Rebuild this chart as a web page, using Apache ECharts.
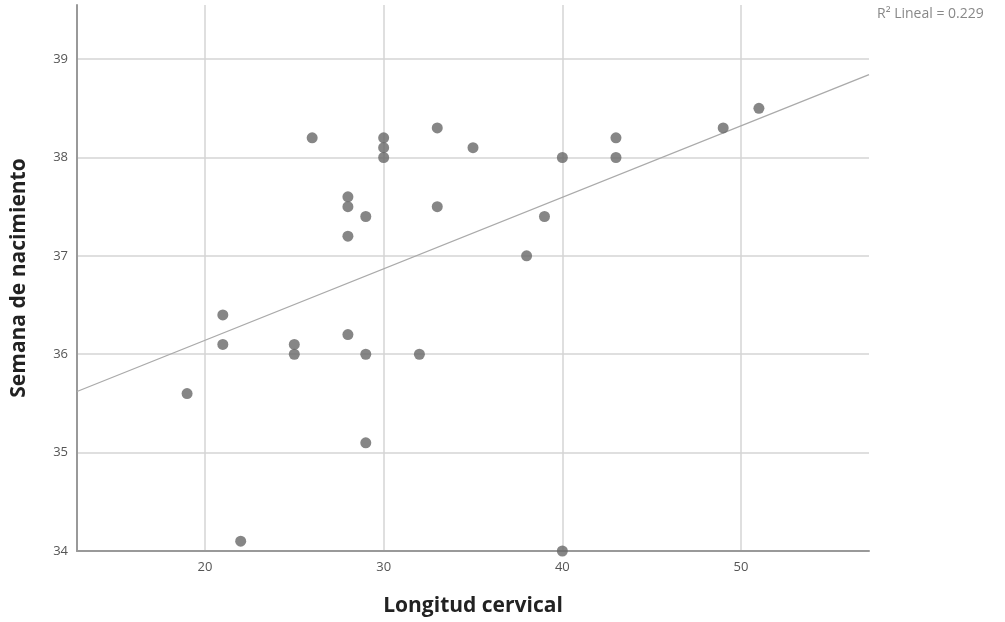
<!DOCTYPE html>
<html><head><meta charset="utf-8">
<script src="https://cdn.jsdelivr.net/npm/echarts@6/dist/echarts.min.js"></script>
<style>html,body{margin:0;padding:0;background:#fff}#c{width:1005px;height:622px}</style>
</head><body><div id="c"></div>
<script>
const longitudCervical = [19,21,21,22,25,25,26,28,28,28,28,29,29,29,30,30,30,32,33,33,35,38,39,40,40,43,43,49,51];
const semanaNacimiento = [35.6,36.4,36.1,34.1,36.1,36.0,38.2,37.6,37.5,37.2,36.2,37.4,36.0,35.1,38.2,38.1,38.0,36.0,38.3,37.5,38.1,37.0,37.4,38.0,34.0,38.2,38.0,38.3,38.5];
const xTicks = [20,30,40,50];
const yTicks = [34,35,36,37,38,39];
const xRange = [12.84, 57.16];
const yRange = [34, 39.55];
const fitLabel = 'R\u00b2 Lineal = 0.229';

const n = longitudCervical.length;
const mx = longitudCervical.reduce((a,b)=>a+b,0)/n;
const my = semanaNacimiento.reduce((a,b)=>a+b,0)/n;
let sxy=0,sxx=0;
for(let i=0;i<n;i++){sxy+=(longitudCervical[i]-mx)*(semanaNacimiento[i]-my);sxx+=(longitudCervical[i]-mx)**2;}
const slope=sxy/sxx, icpt=my-slope*mx;
const fitLine = xRange.map(x=>[x, icpt+slope*x]);
const pts = longitudCervical.map((x,i)=>[x,semanaNacimiento[i]]);

const chart = echarts.init(document.getElementById('c'));
const FONT = '"Open Sans", sans-serif';
chart.setOption({
  animation:false,
  backgroundColor:'#fff',
  grid:{left:77,right:136,top:5,bottom:68},
  xAxis:{type:'value',min:xRange[0],max:xRange[1],
    name:'Longitud cervical',nameLocation:'middle',nameGap:45,
    nameTextStyle:{fontFamily:FONT,fontWeight:'bold',fontSize:21,color:'#222'},
    axisLine:{show:true,onZero:false,lineStyle:{color:'#999',width:2}},
    axisTick:{show:false,customValues:xTicks},
    axisLabel:{customValues:xTicks,fontFamily:FONT,fontSize:13,color:'#555',margin:10},
    splitLine:{show:true,lineStyle:{color:'#d4d4d4',width:1.5}}
  },
  yAxis:{type:'value',min:yRange[0],max:yRange[1],
    name:'Semana de nacimiento',nameLocation:'middle',nameGap:47,nameRotate:90,
    nameTextStyle:{fontFamily:FONT,fontWeight:'bold',fontSize:21,color:'#222'},
    axisLine:{show:true,onZero:false,lineStyle:{color:'#999',width:2}},
    axisTick:{show:false,customValues:yTicks},
    axisLabel:{customValues:yTicks,fontFamily:FONT,fontSize:13,color:'#555',margin:9},
    splitLine:{show:true,lineStyle:{color:'#d4d4d4',width:1.5}}
  },
  graphic:[{type:'text',left:877,top:7,style:{text:fitLabel,fontFamily:FONT,fontSize:14,letterSpacing:0.8,fill:'#888'}}],
  series:[
    {type:'line',data:fitLine,symbol:'none',lineStyle:{color:'#aaa',width:1.3},z:2,silent:true},
    {type:'scatter',data:pts,symbolSize:11,itemStyle:{color:'#686868'},z:3}
  ]
});
</script></body></html>
